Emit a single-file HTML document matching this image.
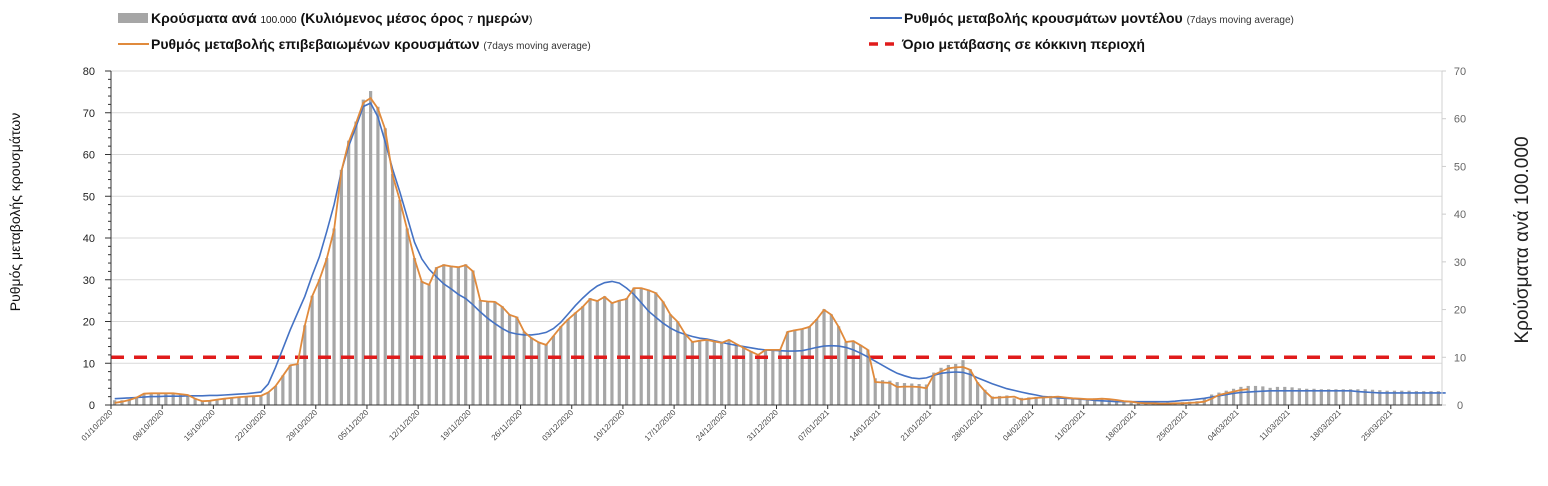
<!DOCTYPE html>
<html><head><meta charset="utf-8"><style>
html,body{margin:0;padding:0;background:#fff;width:1548px;height:486px;overflow:hidden}
svg{display:block;font-family:"Liberation Sans","DejaVu Sans",sans-serif}
</style></head><body>
<svg id="chart" width="1548" height="486" viewBox="0 0 1548 486" xmlns="http://www.w3.org/2000/svg">
<g>
 <g>
  <rect x="118" y="13" width="30" height="10" fill="#a6a6a6"/>
  <text x="151" y="23" font-size="14" font-weight="bold" fill="#111">Κρούσματα ανά <tspan font-size="10" font-weight="normal">100.000</tspan> (Κυλιόμενος μέσος όρος <tspan font-size="10" font-weight="normal">7</tspan> ημερών<tspan font-size="10" font-weight="normal">)</tspan></text>
 </g>
 <g>
  <line x1="118" y1="44" x2="149" y2="44" stroke="#e08a3c" stroke-width="2"/>
  <text x="151" y="49" font-size="14" font-weight="bold" fill="#111">Ρυθμός μεταβολής επιβεβαιωμένων κρουσμάτων <tspan font-size="10" font-weight="normal" fill="#333">(7days moving average)</tspan></text>
 </g>
 <g>
  <line x1="870" y1="18" x2="902" y2="18" stroke="#4472c4" stroke-width="2"/>
  <text x="904" y="23" font-size="14" font-weight="bold" fill="#111">Ρυθμός μεταβολής κρουσμάτων μοντέλου <tspan font-size="10" font-weight="normal" fill="#333">(7days moving average)</tspan></text>
 </g>
 <g>
  <line x1="869" y1="44" x2="901" y2="44" stroke="#e01b1b" stroke-width="3.5" stroke-dasharray="9,7"/>
  <text x="902" y="49" font-size="14" font-weight="bold" fill="#111">Όριο μετάβασης σε κόκκινη περιοχή</text>
 </g>
</g>
<text transform="translate(20,212) rotate(-90)" text-anchor="middle" font-size="14" fill="#111">Ρυθμός μεταβολής κρουσμάτων</text>
<text transform="translate(1528,240) rotate(-90)" text-anchor="middle" font-size="19" fill="#222">Κρούσματα ανά 100.000</text>
<g id="plot"></g>
</svg>
<script>
const dateLabels = ["01/10/2020","08/10/2020","15/10/2020","22/10/2020","29/10/2020","05/11/2020","12/11/2020","19/11/2020","26/11/2020","03/12/2020","10/12/2020","17/12/2020","24/12/2020","31/12/2020","07/01/2021","14/01/2021","21/01/2021","28/01/2021","04/02/2021","11/02/2021","18/02/2021","25/02/2021","04/03/2021","11/03/2021","18/03/2021","25/03/2021"];
const leftTicks = [0,10,20,30,40,50,60,70,80];
const rightTicks = [0,10,20,30,40,50,60,70];
const threshold = 10;
const cases = [1.0,1.0,1.2,1.6,2.4,2.5,2.5, 2.5,2.5,2.3,2.2,1.4,0.8,0.9, 1.2,1.4,1.5,1.7,1.8,1.9,2.0,
 2.6,4,6.2,8.4,8.6,16.7,22.9, 26.4,30.8,37,49.3,55.4,59.4,64, 65.8,62.5,58,48.4,43,37,30.8,
 26,25.3,28.9,29.5,29.2,29,29.5, 28.2,22,21.8,21.7,20.7,19,18.5, 15.4,14.1,13.2,12.7,14.5,16.5,18,
 19.4,20.7,22.4,21.9,22.8,21.5,22, 22.4,24.6,24.6,24.2,23.6,21.7,19, 17.5,15,13.3,13.6,13.7,13.4,13.1,
 13.7,12.8,12,11.3,10.6,11.6,11.6, 11.6,15.4,15.8,16,16.5,18,20.1, 19,16.5,13.3,13.5,12.6,11.6,5.6,
 5.2,5.1,4.8,4.6,4.5,4.4,4.3, 6.8,7.8,8.4,8.6,9.4,7.5,4.8, 3.2,
 1.8,1.9,2.0,1.4,1.5, 1.6,1.7,1.8,1.9,1.7,1.5,1.4, 1.3,1.3,1.4,1.3,1.1,0.9,0.8, 0.6,0.5,0.5,0.4,0.4,0.5,0.5,
 0.6,0.7,0.8,1.4,2.2,2.6,3.0, 3.4,3.8,4.0,4.0,3.9,3.6,3.8, 3.8,3.7,3.5,3.4,3.4,3.3,3.3,
 3.3,3.3,3.3,3.3,3.3,3.2,3.1, 3.0,3.0,3.0,3.0,2.9,2.9,2.9,2.9];
const confirmedRate = [0.5,0.8,1.2,1.8,2.7,2.8,2.8, 2.8,2.8,2.6,2.4,1.5,0.9,1.0, 1.3,1.5,1.7,1.9,2.0,2.1,2.2,
 3,4.5,7,9.5,9.8,19,26, 30,35,42,56,63,67.5,72.4, 73.5,71,66,55,49,42,35,
 29.5,28.8,32.8,33.5,33.2,33,33.5, 32,25,24.8,24.7,23.5,21.6,21, 17.5,16,15,14.4,16.5,18.7,20.5,
 22,23.5,25.4,24.9,25.9,24.4,25, 25.4,28,28,27.5,26.8,24.7,21.6, 19.9,17,15.1,15.4,15.6,15.2,14.9,
 15.6,14.6,13.7,12.8,12,13.2,13.2, 13.2,17.5,17.9,18.2,18.7,20.5,22.8, 21.6,18.7,15.1,15.3,14.3,13.2,5.5,
 5.4,5.3,4.3,4.4,4.4,4.3,4.0, 7.2,8,8.8,9,9.1,8.4,5.3, 3.3,
 1.7,1.8,1.9,2.0,1.3,1.5,1.7, 1.8,1.9,2.0,1.8,1.6,1.5,1.4, 1.4,1.5,1.4,1.2,0.9,0.8,0.5,
 0.4,0.4,0.3,0.3,0.4,0.4,0.5, 0.6,0.8,1.5,2.4,2.8,3.2,3.6, 3.8];
const modelRate = [1.5,1.6,1.7,1.8,1.9,2.0,2.0, 2.1,2.1,2.1,2.2,2.2,2.2,2.3, 2.3,2.4,2.5,2.6,2.7,2.9,3.1,
 5,9,13.5,18,22,26,31, 35.5,41.5,48,56,62,66.6,71.5, 72.3,69,63,56.5,51,45,39,
 35,32.5,30.7,29,27.8,26.5,25.5, 24,22.3,20.8,19.5,18.3,17.4,17, 16.8,16.8,17,17.4,18.3,19.8,21.8,
 23.8,25.6,27.2,28.5,29.3,29.6,29.2, 28,26.5,24.5,22.5,21,19.6,18.4, 17.5,16.9,16.4,16,15.8,15.4,15,
 14.6,14.3,14,13.7,13.4,13.2,13.1, 13,12.9,12.9,13,13.4,13.8,14.1, 14.2,14.1,13.8,13.2,12.4,11.5,10.5,
 9.5,8.5,7.6,7,6.5,6.3,6.5, 7.1,7.6,7.8,7.9,7.8,7.3,6.5, 5.8,5.1,4.5,3.9,3.5,3.1,2.7,
 2.4,2.0,1.9,1.7,1.6,1.5,1.4, 1.3,1.1,1.0,0.9,0.8,0.8,0.8, 0.8,0.8,0.8,0.8,0.8,0.9,1.1,
 1.2,1.4,1.6,1.9,2.2,2.5,2.8, 3.0,3.1,3.2,3.3,3.4,3.4,3.4, 3.4,3.4,3.4,3.4,3.4,3.4,3.4,
 3.4,3.4,3.2,3.1,3.0,2.9,2.9, 2.9,2.9,2.9,2.9,2.9,2.9,2.9,2.9];

const NS = "http://www.w3.org/2000/svg";
const plot = document.getElementById('plot');
const X0 = 111, X1 = 1442, Y0 = 405, YT = 71;
const nDays = cases.length;
const step = (X1 - X0) / nDays;
const xC = d => X0 + (d + 0.5) * step;
const xEdge = d => X0 + d * step;
const yL = v => Y0 - (v / 80) * (Y0 - YT);
const yR = v => Y0 - (v / 70) * (Y0 - YT);
function mk(tag, attrs, parent) {
  const e = document.createElementNS(NS, tag);
  for (const k in attrs) e.setAttribute(k, attrs[k]);
  (parent || plot).appendChild(e);
  return e;
}
leftTicks.forEach(t => {
  if (t === 0) return;
  const g = mk('line', {x1: X0, x2: X1, y1: yL(t), y2: yL(t), stroke: '#d9d9d9', 'stroke-width': 1});
  
  
});
cases.forEach((v, i) => {
  const r = mk('rect', {x: xC(i) - 1.6, y: yR(v), width: 3.2, height: Y0 - yR(v), fill: '#a6a6a6'});
  
  
});
const th = mk('line', {x1: X0, x2: X1, y1: yR(threshold), y2: yR(threshold), stroke: '#e01b1b', 'stroke-width': 3.5, 'stroke-dasharray': '13,10'});


const mPath = mk('path', {d: modelRate.map((v, i) => (i ? 'L' : 'M') + xC(i).toFixed(1) + ',' + yL(v).toFixed(1)).join(''), fill: 'none', stroke: '#4472c4', 'stroke-width': 1.6});


const cPath = mk('path', {d: confirmedRate.map((v, i) => (i ? 'L' : 'M') + xC(i).toFixed(1) + ',' + yL(v).toFixed(1)).join(''), fill: 'none', stroke: '#e08a3c', 'stroke-width': 1.8});


const la = mk('line', {x1: X0, x2: X0, y1: YT, y2: Y0, stroke: '#333', 'stroke-width': 1});


for (let v = 0; v <= 80; v += 2) {
  const big = v % 10 === 0;
  mk('line', {x1: X0 - (big ? 6 : 3), x2: X0, y1: yL(v), y2: yL(v), stroke: '#333', 'stroke-width': 1});
}
leftTicks.forEach(t => {
  const tx = mk('text', {x: X0 - 16, y: yL(t) + 4, 'text-anchor': 'end', 'font-size': 11, fill: '#222'});
  tx.textContent = t;
  
  
});
const ra = mk('line', {x1: X1, x2: X1, y1: YT, y2: Y0, stroke: '#d0d0d0', 'stroke-width': 1});


rightTicks.forEach(t => {
  mk('line', {x1: X1, x2: X1 + 4, y1: yR(t), y2: yR(t), stroke: '#ccc', 'stroke-width': 1});
  const tx = mk('text', {x: X1 + 18, y: yR(t) + 4, 'text-anchor': 'middle', 'font-size': 11, fill: '#666'});
  tx.textContent = t;
  
  
});
const xa = mk('line', {x1: X0, x2: X1, y1: Y0, y2: Y0, stroke: '#333', 'stroke-width': 1});


dateLabels.forEach((lab, k) => {
  const x = xEdge(k * 7);
  mk('line', {x1: x, x2: x, y1: Y0, y2: Y0 + 4, stroke: '#333', 'stroke-width': 1});
  const tx = mk('text', {transform: 'translate(' + (x + 2) + ',' + (Y0 + 8) + ') rotate(-45)', 'text-anchor': 'end', 'font-size': 8, fill: '#444'});
  tx.textContent = lab;
  
  
});
</script>
</body></html>
